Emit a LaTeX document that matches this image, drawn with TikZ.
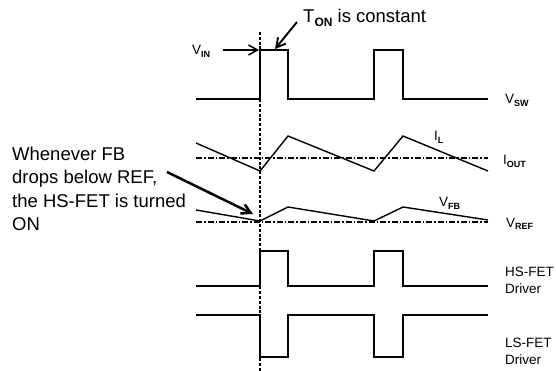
\documentclass[tikz,border=0pt]{standalone}
\usepackage{fontspec}
\setmainfont{Liberation Sans}
\usetikzlibrary{arrows.meta}
\definecolor{ink}{HTML}{000000}

% bold, lowered subscript (size of subscript as option)
\newcommand\lsub[2][9]{{\fontsize{#1}{#1}\selectfont\bfseries\raisebox{-0.33em}{#2}}}

\tikzset{
  wave/.style={ink,line width=1.4pt,line join=miter},
  level/.style={ink,line width=1.3pt,dash pattern=on 6pt off 2pt on 1.5pt off 2pt},
  marker/.style={ink,line width=1.7pt,dash pattern=on 3pt off 1.8pt},
  lab/.style={anchor=base west,inner sep=0pt,font=\fontsize{13.5}{17}\selectfont,align=left},
  note/.style={anchor=base west,inner sep=0pt,font=\fontsize{18.5}{23.3}\selectfont,align=left},
  ptr/.style={ink,line width=1.5pt,-{Straight Barb[length=9pt,width=10pt]}}
}

\begin{document}
\begin{tikzpicture}[x=1pt,y=-1pt]
  \useasboundingbox (0,0) rectangle (556,371);

  % switch node
  \draw[wave] (196,99) -- (260,99) -- (260,50) -- (288,50) -- (288,99)
    -- (374,99) -- (374,50) -- (403,50) -- (403,99) -- (488,99);
  % inductor current / feedback + their levels
  \foreach \yy in {158, 222}
    \draw[level] (196,\yy) -- (488,\yy);
  \draw[wave] (196,143) -- (260,171) -- (288,136) -- (374,171) -- (403,136) -- (488,171);
  \draw[wave] (196,210) -- (260,221) -- (288,207) -- (374,221) -- (403,207) -- (488,220);
  % gate drivers
  \draw[wave] (196,286) -- (260,286) -- (260,251) -- (288,251) -- (288,286)
    -- (374,286) -- (374,251) -- (403,251) -- (403,286) -- (488,286);
  \draw[wave] (196,315) -- (260,315) -- (260,357) -- (288,357) -- (288,315)
    -- (374,315) -- (374,357) -- (403,357) -- (403,315) -- (488,315);
  % turn-on instant
  \draw[marker] (260,32) -- (260,371);

  % labels
  \node[lab] (vsw) at (505,104) {V\lsub{SW}};
  \node[lab] (il) at (434,141) {I\lsub{L}};
  \node[lab] (iout) at (503,165) {I\lsub{OUT}};
  \node[lab] (vfb) at (439,207) {V\lsub{FB}};
  \node[lab] (vref) at (506,227) {V\lsub{REF}};
  \node[lab,anchor=north west] (hsdrv) at (505,267) {HS-FET\\Driver};
  \node[lab,anchor=north west] (lsdrv) at (505,338) {LS-FET\\Driver};
  \node[lab] (vin) at (192,55) {V\lsub{IN}};
  \node[note] (ton) at (303,23) {T\lsub[12]{ON} is constant};
  \node[note,anchor=north west] (whenever) at (12,147)
    {Whenever FB\\drops below REF,\\the HS-FET is turned\\ON};

  % pointers
  \coordinate (vintail) at (223,50);
  \coordinate (vinhead) at (259,50);
  \coordinate (tontail) at (297,22);
  \coordinate (tonhead) at (275,49);
  \coordinate (fbtail) at (167,172);
  \coordinate (fbhead) at (253,214);
  \draw[ptr] (vintail) -- (vinhead);
  \draw[ptr,line width=1.9pt] (tontail) -- (tonhead);
  \draw[ptr,line width=2.5pt] (fbtail) -- (fbhead);
\end{tikzpicture}
\end{document}
